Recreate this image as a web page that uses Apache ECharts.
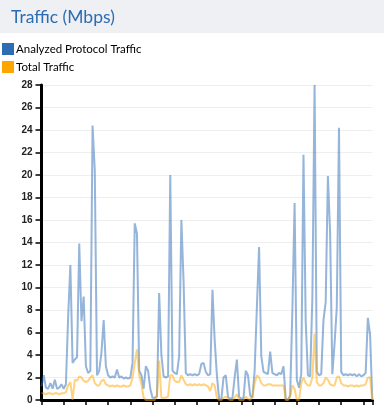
<!DOCTYPE html>
<html>
<head>
<meta charset="utf-8">
<script src="https://cdn.jsdelivr.net/npm/echarts@6/dist/echarts.min.js"></script>
<style>
html,body{margin:0;padding:0;background:#fff;}
#c{width:384px;height:408px;}
</style>
</head>
<body>
<div id="c"></div>
<script>
const titleText = 'Traffic (Mbps)';
const seriesNames = ['Analyzed Protocol Traffic', 'Total Traffic'];
const analyzed = [
  1.2, 2.2, 1.1, 1.0, 1.5, 1.0, 1.8, 1.0, 1.1, 1.4, 1.0, 1.4, 7.4,
  12.0, 3.3, 3.6, 3.8, 13.9, 7.0, 9.2, 3.0, 2.4, 2.6, 24.4, 20.4,
  2.2, 2.6, 4.2, 7.1, 3.0, 2.2, 2.0, 2.1, 2.0, 2.7, 2.0, 2.1, 1.9, 2.0, 1.9, 2.0,
  3.3, 15.7, 14.8, 2.6, 2.2, 1.0, 3.0, 2.6, 1.0, 0.2, 0.2, 0.3,
  9.5, 4.0, 2.1, 2.0, 2.1, 20.0, 2.6, 2.4, 2.3, 3.9, 16.0, 10.5,
  2.4, 2.2, 2.3, 2.2, 2.3, 2.2, 2.3, 3.2, 3.3, 2.5, 2.2, 2.3,
  9.8, 5.3, 2.2, 0.1, 0.1, 2.0, 2.2, 0.3, 0.1, 0.2, 2.0, 3.6,
  0.3, 0.1, 0.2, 2.6, 2.2, 0.4, 0.2, 2.6, 8.2, 13.6, 3.9,
  2.5, 2.4, 2.3, 4.3, 2.4, 2.3, 2.2, 2.4, 2.3, 3.0, 0.1, 0.0, 0.4,
  8.0, 17.5, 1.8, 1.1, 2.3, 21.8, 7.0, 2.2, 2.1, 9.0, 28.0, 2.5,
  2.2, 2.3, 7.1, 8.7, 19.9, 14.8, 2.3, 5.0, 8.2, 24.2, 2.5,
  2.2, 2.3, 2.2, 2.3, 2.2, 2.3, 2.1, 2.3, 2.1, 2.2, 2.4, 7.3, 5.8, 0
];
const total = [
  0.6, 0.6, 0.5, 0.6, 0.6, 0.5, 0.6, 0.6, 0.5, 0.6, 0.6, 0.7,
  1.3, 1.6, 0.0, 1.8, 1.7, 2.1, 2.0, 1.7, 1.6, 1.7, 2.0, 2.2, 1.5, 1.3, 1.3, 1.7, 1.8, 1.4,
  1.3, 1.2, 1.3, 1.2, 1.3, 1.2, 1.2, 1.3, 1.2, 1.2, 1.3,
  2.0, 3.3, 4.5, 2.2, 1.4, 0.2, 0.0, 0.0, 0.0, 0.0, 0.0, 0.5, 3.5, 0.2, 0.2, 0.2, 0.3,
  2.2, 2.2, 1.7, 1.6, 1.6, 2.2, 1.8,
  1.4, 1.3, 1.4, 1.3, 1.4, 1.3, 1.4, 1.3, 1.4, 1.3,
  1.2, 0.8, 1.5, 1.3, 0.2, 0.0, 0.0, 0.2, 0.3, 0.1, 0.0, 0.0, 0.2, 0.5, 0.0, 0.0, 0.0, 0.3, 0.1, 0.0, 0.3,
  1.5, 2.2, 2.0, 1.5, 1.3, 1.3, 1.4, 1.4, 1.3, 1.3, 1.3, 1.3, 1.3, 1.3,
  0.0, 0.0, 0.3, 1.3, 1.0, 0.0, 0.0, 1.5, 2.0, 1.5, 1.3, 1.3, 2.0, 5.9, 1.6,
  1.3, 1.3, 1.5, 2.0, 1.8, 1.4, 1.3, 1.3, 2.0, 2.1, 1.5,
  1.3, 1.3, 1.2, 1.3, 1.3, 1.2, 1.3, 1.2, 1.3, 1.3, 1.4, 2.0, 2.0, 0
];
const xTickValues = [0, 10, 20, 30, 40, 50, 60, 70, 80, 90, 95, 105, 115, 125, 135, 145, 149];
const yMin = 0, yMax = 28, yStep = 2;

const pairs = arr => arr.map((v, i) => [i, v]);
const chart = echarts.init(document.getElementById('c'), null, {renderer: 'canvas'});
const FONT = 'Lato';
chart.setOption({
  animation: false,
  graphic: [{
    type: 'rect', left: 0, top: 0, z: -10,
    shape: {width: 384, height: 33},
    style: {fill: '#eff0f3'}
  }],
  title: {
    text: titleText, left: 6, top: 3,
    textStyle: {fontFamily: FONT, fontSize: 17.5, fontWeight: 'normal', color: '#2b6cb4'}
  },
  legend: {
    orient: 'vertical', left: 2, top: 43, itemWidth: 12, itemHeight: 12, itemGap: 6,
    icon: 'rect', padding: 0,
    textStyle: {fontFamily: FONT, fontSize: 11.5, color: '#000', padding: [1, 0, 0, -3]},
    data: [
      {name: seriesNames[0], itemStyle: {color: '#2e6db4', opacity: 1}},
      {name: seriesNames[1], itemStyle: {color: '#ffa500', opacity: 1}}
    ]
  },
  grid: {left: 41.5, right: 11.7, top: 85, bottom: 8, containLabel: false},
  xAxis: {
    type: 'value', min: 0, max: analyzed.length - 1,
    axisLine: {show: true, onZero: false, lineStyle: {color: '#000', width: 3}},
    axisTick: {show: true, customValues: xTickValues, length: 5, lineStyle: {color: '#000', width: 1.5}},
    axisLabel: {show: false},
    splitLine: {show: false}
  },
  yAxis: {
    type: 'value', min: yMin, max: yMax, interval: yStep,
    axisLine: {show: true, lineStyle: {color: '#000', width: 3}},
    axisTick: {show: true, length: 6, lineStyle: {color: '#000', width: 1.5}},
    axisLabel: {fontFamily: 'Liberation Sans', fontSize: 10, fontWeight: 'bold', color: '#222', margin: 9},
    splitLine: {show: true, lineStyle: {color: '#eeeeee', width: 1}}
  },
  series: [
    {
      name: seriesNames[0], type: 'line', data: pairs(analyzed), showSymbol: false,
      color: '#2b6cb5', lineStyle: {width: 2, opacity: 0.5}, z: 2
    },
    {
      name: seriesNames[1], type: 'line', data: pairs(total), showSymbol: false,
      color: '#ffa500', lineStyle: {width: 2, opacity: 0.5}, z: 3
    }
  ]
});
</script>
</body>
</html>
